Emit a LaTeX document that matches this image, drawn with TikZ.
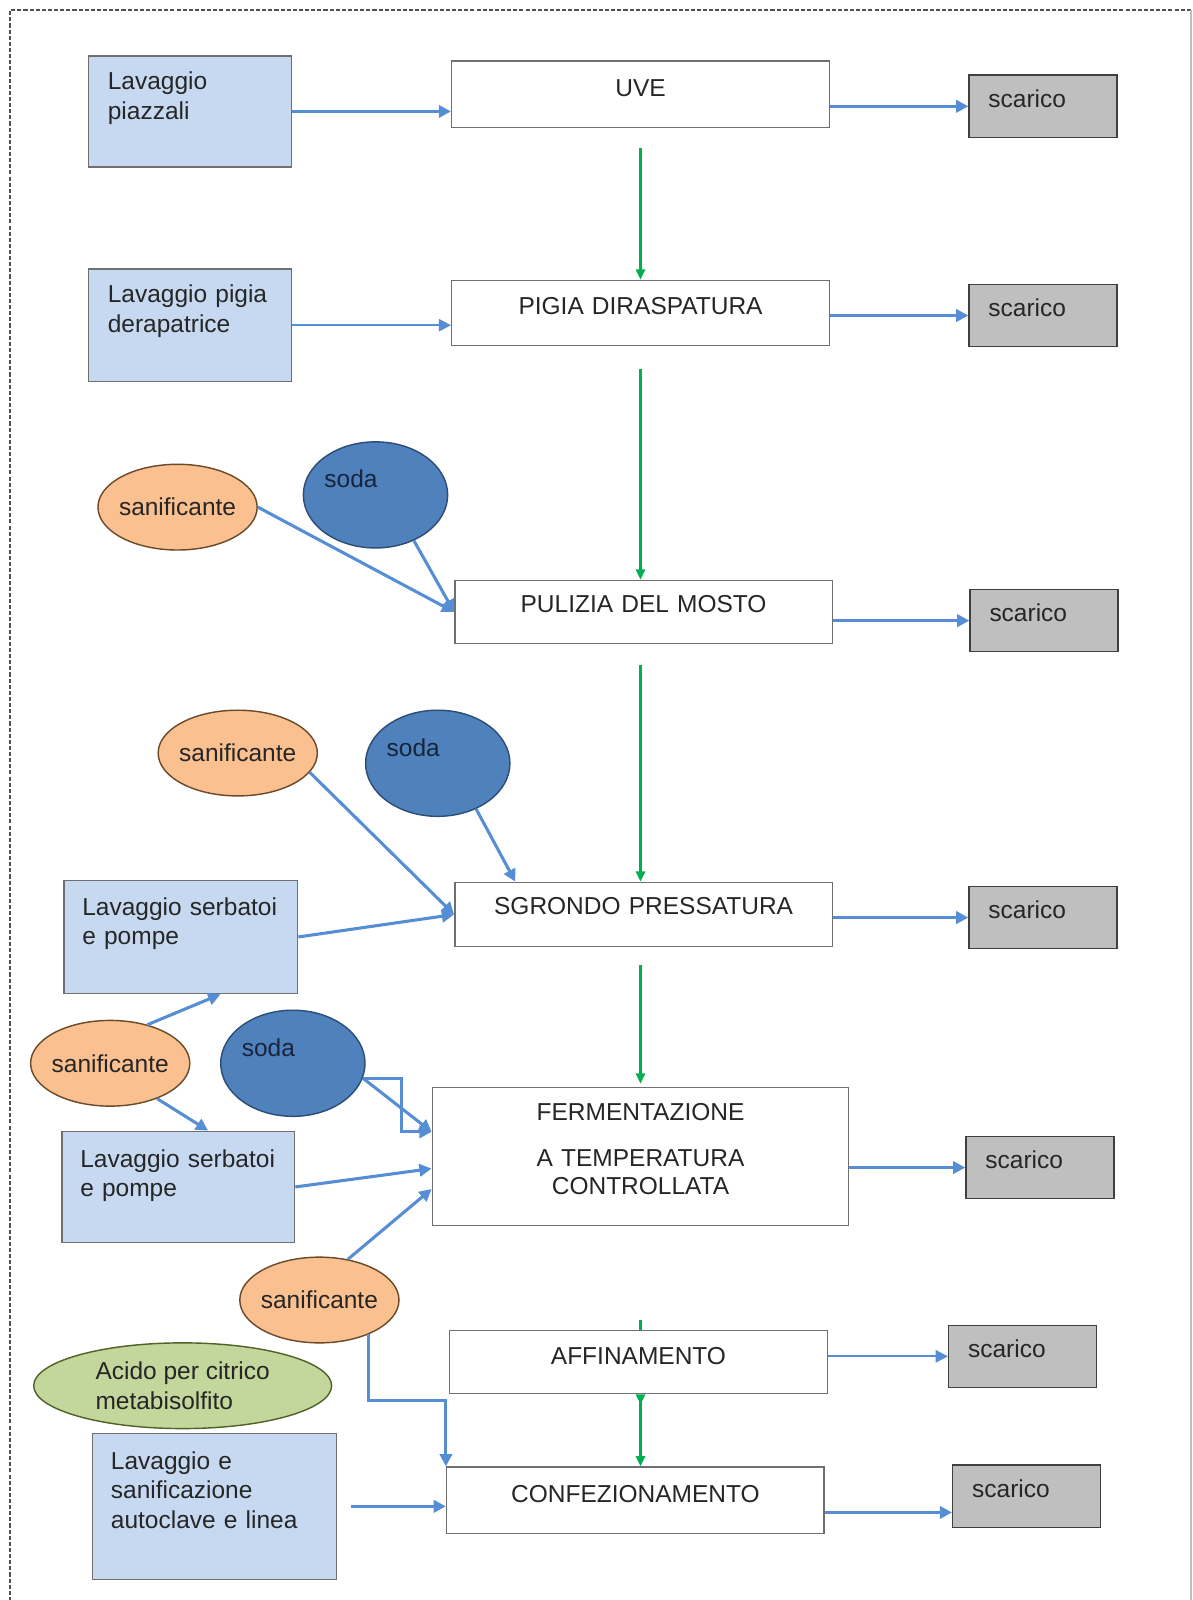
\documentclass[tikz,border=0pt]{standalone}
\usepackage{fontspec}
\setmainfont{Liberation Sans}
\usepackage{xcolor}
\usepackage{tikz}
\usetikzlibrary{shapes.geometric,arrows.meta}
\definecolor{lavblue}{HTML}{C6D9F1}
\definecolor{boxline}{HTML}{6F6F6F}
\definecolor{scarfill}{HTML}{BFBFBF}
\definecolor{scarline}{HTML}{404040}
\definecolor{sanfill}{HTML}{FAC090}
\definecolor{sanline}{HTML}{6B4A2A}
\definecolor{sodafill}{HTML}{4F81BD}
\definecolor{sodaline}{HTML}{2C4D75}
\definecolor{sodatext}{HTML}{17243A}
\definecolor{acidfill}{HTML}{C3D69B}
\definecolor{acidline}{HTML}{4F6228}
\definecolor{flowblue}{HTML}{558ED5}
\definecolor{flowgreen}{HTML}{00B050}
\definecolor{ink}{HTML}{262626}

\begin{document}
\begin{tikzpicture}[x=0.5pt,y=-0.5pt,
	every node/.style={font=\fontsize{12}{14.5}\selectfont, text=ink, inner ysep=0pt, line width=0.7pt},
	lav/.style={draw=boxline, fill=lavblue, anchor=north west, align=left, inner xsep=9pt},
	proc/.style={draw=boxline, fill=white, anchor=north west, align=center, inner xsep=0pt, text width=185pt},
	scar/.style={draw=scarline, fill=scarfill, anchor=north west, align=left, inner xsep=9.5pt, text width=53.5pt, text height=15.75pt, text depth=14.75pt},
	sanif/.style={ellipse, draw=sanline, fill=sanfill, inner xsep=-1.5pt, minimum width=78pt, minimum height=42pt},
	soda/.style={ellipse, draw=sodaline, fill=sodafill, text=sodatext, inner sep=0pt, align=left, text width=50pt, text height=8pt, text depth=15pt, minimum width=70pt, minimum height=52pt},
	acido/.style={ellipse, draw=acidline, fill=acidfill, align=left, inner sep=0pt, minimum width=146pt, minimum height=42pt},
	flow/.style={draw=flowblue, line width=1.5pt, -{Triangle[length=6pt,width=6pt]}},
	thin flow/.style={flow, line width=1pt},
	gflow/.style={draw=flowgreen, line width=1.1pt, -{Triangle[length=5pt,width=4.5pt]}},
	]
	\useasboundingbox (0,0) rectangle (1169,1568);
	\draw[ink!80, line width=0.75pt, dash pattern=on 2pt off 1pt] (1167,10) -- (10,10) -- (10,1568);
	\draw[gray!50, line width=0.75pt] (1167,10) -- (1167,1568);

	% processo
	\node[proc, text height=17.25pt, text depth=15.25pt] (uve) at (442,59) {UVE};
	\node[proc, text height=16.75pt, text depth=15.25pt] (pigia) at (442,274) {PIGIA DIRASPATURA};
	\node[proc, text height=15.75pt, text depth=15.25pt] (pulizia) at (445,568) {PULIZIA DEL MOSTO};
	\node[proc, text height=15.75pt, text depth=15.75pt] (sgrondo) at (445,864) {SGRONDO PRESSATURA};
	\node[proc, text width=204pt, text height=16.25pt, text depth=51.25pt, font=\fontsize{12}{13.5}\selectfont] (ferm) at (423,1065) {FERMENTAZIONE\\[9pt]A TEMPERATURA\\CONTROLLATA};
	\node[proc, text height=16.75pt, text depth=14.25pt] (affin) at (440,1303) {AFFINAMENTO};
	\node[proc, text height=17.25pt, text depth=15.25pt] (confez) at (437,1437) {CONFEZIONAMENTO};

	% scarichi
	\node[scar] (scar1) at (949,73) {scarico};
	\node[scar] (scar2) at (949,278) {scarico};
	\node[scar] (scar3) at (950,577) {scarico};
	\node[scar] (scar4) at (949,868) {scarico};
	\node[scar] (scar5) at (946,1113) {scarico};
	\node[scar] (scar6) at (929,1298) {scarico};
	\node[scar] (scar7) at (933,1435) {scarico};

	% lavaggi
	\node[lav, text width=80.5pt, inner xsep=9.5pt, text height=16.5pt, text depth=38pt] (lavpiazz) at (86,54) {Lavaggio\\piazzali};
	\node[lav, text width=80.5pt, inner xsep=9.5pt, text height=16.5pt, text depth=38.5pt] (lavpigia) at (86,263) {Lavaggio pigia\\derapatrice};
	\node[lav, text width=96.5pt, text height=17pt, text depth=38.5pt] (lavserb1) at (62,862) {Lavaggio serbatoi\\e pompe};
	\node[lav, text width=96pt, text height=17.5pt, text depth=37pt] (lavserb2) at (60,1108) {Lavaggio serbatoi\\e pompe};
	\node[lav, text width=101.5pt, text height=17.5pt, text depth=54pt] (lavauto) at (90,1404) {Lavaggio e\\sanificazione\\autoclave e linea};

	% prodotti
	\node[sanif] (sanif1) at (174,497) {sanificante};
	\node[soda] (soda1) at (368,485) {soda};
	\node[sanif] (sanif2) at (233,738) {sanificante};
	\node[soda] (soda2) at (429,748) {soda};
	\node[sanif] (sanif3) at (108,1042) {sanificante};
	\node[soda] (soda3) at (287,1042) {soda};
	\node[sanif] (sanif4) at (313,1274) {sanificante};
	\node[acido] (acido) at (179,1358) {Acido per citrico\\metabisolfito};

	% linea principale
	\draw[gflow, shorten <=10pt] (uve.south) -- (uve.south |- pigia.north);
	\draw[gflow, shorten <=11pt] (uve.south |- pigia.south) -- (uve.south |- pulizia.north);
	\draw[gflow, shorten <=10pt] (uve.south |- pulizia.south) -- (uve.south |- sgrondo.north);
	\draw[gflow, shorten <=8.5pt, shorten >=1.5pt] (uve.south |- sgrondo.south) -- (uve.south |- ferm.north);
	\draw[flowgreen, line width=1.1pt, shorten <=46pt] (uve.south |- ferm.south) -- (uve.south |- affin.north);
	\draw[gflow, {Triangle[reversed,length=5pt,width=4.5pt]}-{Triangle[length=5pt,width=4.5pt]}] (uve.south |- affin.south) -- (uve.south |- confez.north);

	\draw[flow] (lavpiazz.east) -- (lavpiazz.east -| uve.west);
	\draw[flow] (scar1.west -| uve.east) -- (scar1.west);
	\draw[thin flow] (lavpigia.east) -- (lavpigia.east -| pigia.west);
	\draw[flow] (scar2.west -| pigia.east) -- (scar2.west);
	\draw[flow] (sanif1.east) -- (pulizia.west);
	\draw[flow] (soda1.-50) -- (pulizia.west);
	\draw[flow] (scar3.west -| pulizia.east) -- (scar3.west);
	\draw[flow] (sanif2.-15) -- (sgrondo.west);
	\draw[flow] (soda2.-50) -- ([xshift=30pt]sgrondo.north west);
	\draw[flow] (lavserb1.east) -- (sgrondo.west);
	\draw[flow] (scar4.west -| sgrondo.east) -- (scar4.west);
	\draw[flow] (sanif3.46) -- ([xshift=77pt]lavserb1.south west);
	\draw[flow] (sanif3.-37) -- ([xshift=72pt]lavserb2.north west);
	\draw[flow] (soda3.-12) -- ([yshift=12pt]ferm.west);
	\draw[flow] (soda3.-12) -- ++(38,0) |- ([yshift=12pt]ferm.west);
	\draw[flow] (lavserb2.east) -- ([yshift=-6pt]ferm.west);
	\draw[flow] (sanif4.55) -- ([yshift=-16pt]ferm.west);
	\draw[flow] (ferm.east |- scar5.west) -- (scar5.west);
	\draw[flow] (sanif4.-35) -- ++(0,65) -| (confez.north west);
	\draw[thin flow] (scar6.west -| affin.east) -- (scar6.west);
	\draw[flow, shorten <=7pt] (lavauto.east) -- (lavauto.east -| confez.west);
	\draw[flow] ([yshift=-6pt]confez.east) -- ([yshift=-6pt]confez.east -| scar7.west);
\end{tikzpicture}
\end{document}
